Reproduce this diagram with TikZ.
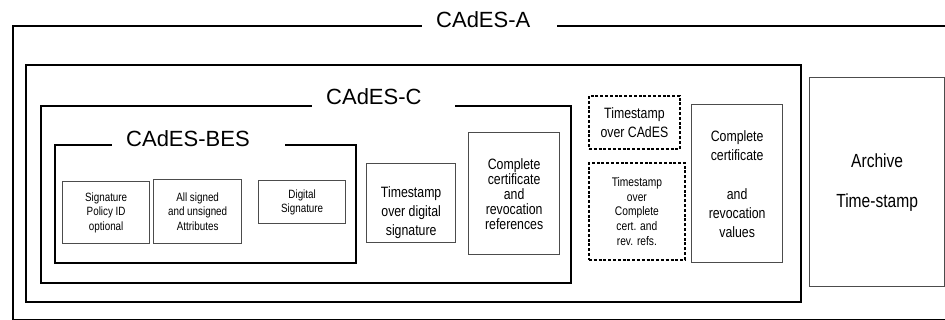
\documentclass[tikz,border=0pt]{standalone}
\usepackage{fontspec}
\setmainfont{Liberation Sans}
\newfontfamily\narrowfont[FakeStretch=0.82]{Liberation Sans}

\begin{document}
\begin{tikzpicture}[
        x=1pt, y=-1pt, % pixel grid, y runs downwards
        container/.style={draw, line width=2.2pt, anchor=north west, inner sep=0pt},
        item/.style={draw=black!70, line width=1.3pt, anchor=north west, inner sep=0pt, align=center},
        tsbox/.style={draw, line width=1.8pt, dash pattern=on 3pt off 1.8pt, anchor=north west, inner sep=0pt, align=center},
        lbl/.style={fill=white, anchor=base west, inner xsep=14pt, inner ysep=4pt, font=\fontsize{22}{26}\selectfont},
        textS/.style={font=\narrowfont\fontsize{12}{14.5}\selectfont},
        textM/.style={font=\narrowfont\fontsize{15}{19}\selectfont}
    ]
        \clip (0,0) rectangle (945,320);

        % Nested levels
        \node[container, minimum width=940pt, minimum height=294pt] (boxA) at (12,25) {};
        \node[container, minimum width=775pt, minimum height=237pt] (boxX) at (25,64) {};
        \node[container, minimum width=530pt, minimum height=177pt] (boxC) at (40,105) {};
        \node[container, minimum width=301pt, minimum height=118pt] (boxBES) at (54,144) {};

        % CAdES-BES content
        \node[item, textS, minimum width=87pt, minimum height=62pt] (policy) at (62,181) {Signature\\Policy ID\\optional};
        \node[item, textS, minimum width=88pt, minimum height=64pt] (attrs) at (153,179) {All signed\\and unsigned\\Attributes};
        \node[item, textS, minimum width=87pt, minimum height=43pt] (digsig) at (258,180) {Digital\\Signature};

        % CAdES-C content
        \node[item, textM, minimum width=89pt, minimum height=79pt] (tsSig) at (366,163) {\rule{0pt}{29pt}Timestamp\\over digital\\signature};
        \node[item, font=\narrowfont\fontsize{15}{15}\selectfont, minimum width=91pt, minimum height=122pt] (certRefs) at (468,132) {Complete\\certificate\\and\\revocation\\references};

        % CAdES-X content
        \node[tsbox, textM, minimum width=91pt, minimum height=53pt] (tsCades) at (588,95) {Timestamp\\over CAdES};
        \node[tsbox, font=\narrowfont\fontsize{12.5}{14.7}\selectfont, minimum width=96pt, minimum height=97pt] (tsRefs) at (588,162) {Timestamp\\over\\Complete\\cert. and\\rev. refs.};
        \node[item, textM, minimum width=91pt, minimum height=158pt] (certVals) at (691,104) {Complete\\certificate\\[20pt]and\\revocation\\values};

        % CAdES-A content
        \node[item, font=\narrowfont\fontsize{19}{40}\selectfont, minimum width=135pt, minimum height=209pt] (archive) at (809,77) {Archive\\Time-stamp};

        % Labels breaking the top borders
        \node[lbl, text width=107pt] (labA) at (422,28) {CAdES-A};
        \node[lbl, text width=115pt] (labC) at (312,105) {CAdES-C};
        \node[lbl, text width=145pt] (labBES) at (112,147) {CAdES-BES};

    \end{tikzpicture}
\end{document}
